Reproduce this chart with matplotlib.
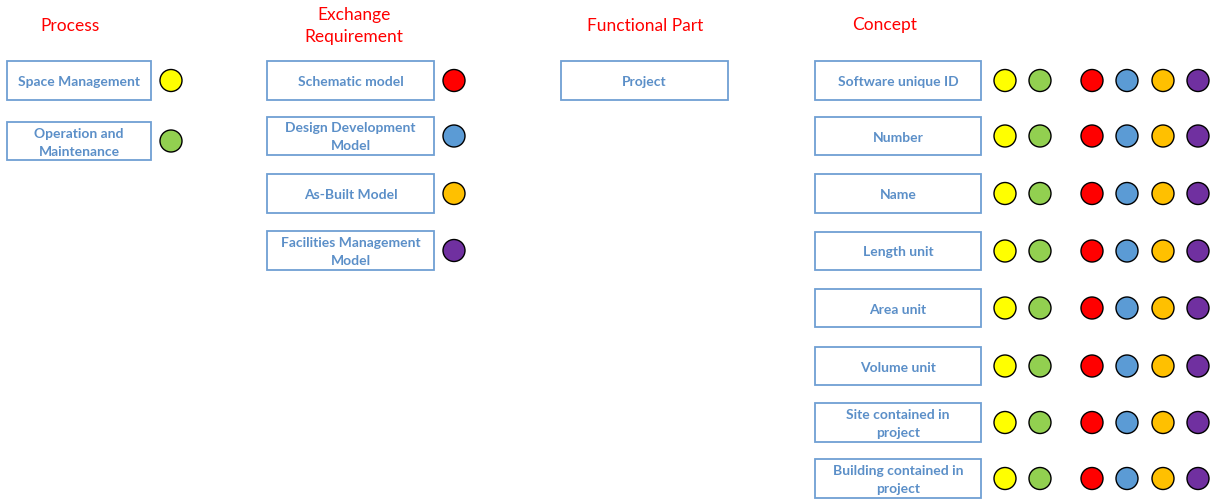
import matplotlib.pyplot as plt
from matplotlib.patches import Rectangle, Circle

# column headers
headers = ["Process", "Exchange\nRequirement", "Functional Part", "Concept"]

# box labels per column
process = ["Space Management", "Operation and\nMaintenance"]
exchange = ["Schematic model", "Design Development\nModel", "As-Built Model",
            "Facilities Management\nModel"]
functional = ["Project"]
concept = ["Software unique ID", "Number", "Name", "Length unit", "Area unit",
           "Volume unit", "Site contained in\nproject", "Building contained in\nproject"]

# marker colours
yellow, green, red, blue, orange, purple = "#FFFF00", "#92D050", "#FF0000", "#5B9BD5", "#FFC000", "#7030A0"
process_dots = [[yellow], [green]]
exchange_dots = [[red], [blue], [orange], [purple]]
concept_dots = [[yellow, green, red, blue, orange, purple]] * len(concept)

box_edge = "#6F9FD3"
text_blue = "#5B8FC8"
font = ["Lato", "DejaVu Sans"]

fig = plt.figure(figsize=(12.17, 5.0), dpi=100)
ax = fig.add_axes([0, 0, 1, 1])
ax.set_xlim(0, 1217)
ax.set_ylim(500, 0)
ax.axis("off")


def column(x0, x1, tops, bottoms, labels, dots, dot_x):
    for top, bot, lab, cols in zip(tops, bottoms, labels, dots):
        ax.add_patch(Rectangle((x0, top), x1 - x0, bot - top, fill=False,
                               edgecolor=box_edge, linewidth=1.3))
        cy = (top + bot) / 2
        ax.text((x0 + x1) / 2, cy + 1.5, lab, ha="center", va="center", color=text_blue,
                fontsize=10, fontweight="bold", family=font, linespacing=1.6)
        for cx, c in zip(dot_x, cols):
            ax.add_patch(Circle((cx, cy), 11, facecolor=c, edgecolor="black",
                                linewidth=1.0))


column(7, 151, [61, 122], [100, 160], process, process_dots, [171])
column(267, 434, [61, 117, 174, 231], [100, 155, 213, 270], exchange, exchange_dots, [454])
column(561, 728, [61], [100], functional, [[]], [])
column(815, 981, [61, 117, 174, 232, 289, 347, 403, 459],
       [100, 155, 213, 270, 327, 385, 442, 498], concept, concept_dots,
       [1005, 1040, 1092, 1127, 1163, 1198])

for x, y, h in zip([70, 354, 645, 885], [26, 26, 26, 25], headers):
    ax.text(x, y, h, ha="center", va="center", color="#FF0000", fontsize=12.5,
            family=font, linespacing=1.4)

fig.savefig("out.png", dpi=100)
